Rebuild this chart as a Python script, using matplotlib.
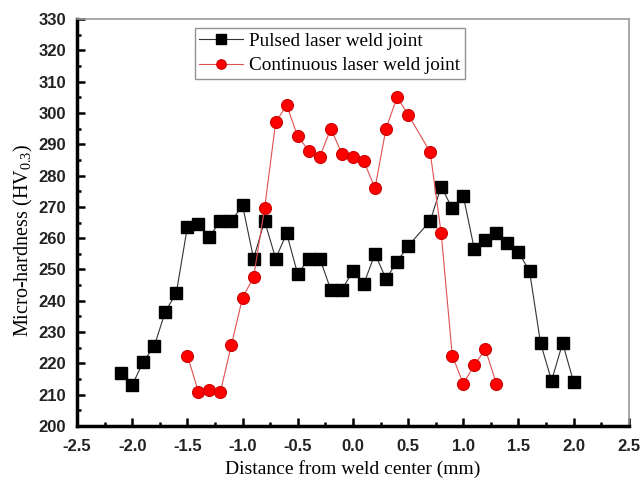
import matplotlib
matplotlib.use("Agg")
import matplotlib.pyplot as plt
from matplotlib.ticker import MultipleLocator

# Pulsed laser weld joint
pulsed_x = [-2.1, -2.0, -1.9, -1.8, -1.7, -1.6, -1.5, -1.4, -1.3, -1.2, -1.1, -1.0,
            -0.9, -0.8, -0.7, -0.6, -0.5, -0.4, -0.3, -0.2, -0.1, 0.0, 0.1, 0.2,
            0.3, 0.4, 0.5, 0.7, 0.8, 0.9, 1.0, 1.1, 1.2, 1.3, 1.4, 1.5, 1.6, 1.7,
            1.8, 1.9, 2.0]
pulsed_y = [217, 213, 220.5, 225.5, 236.5, 242.5, 263.5, 264.5, 260.5, 265.5, 265.5, 270.5,
            253.5, 265.5, 253.5, 261.5, 248.5, 253.5, 253.5, 243.5, 243.5, 249.5, 245.5, 255,
            247, 252.5, 257.5, 265.5, 276.5, 269.5, 273.5, 256.5, 259.5, 261.5, 258.5, 255.5, 249.5, 226.5,
            214.5, 226.5, 214]

# Continuous laser weld joint
cont_x = [-1.5, -1.4, -1.3, -1.2, -1.1, -1.0, -0.9, -0.8, -0.7, -0.6, -0.5, -0.4,
          -0.3, -0.2, -0.1, 0.0, 0.1, 0.2, 0.3, 0.4, 0.5, 0.7, 0.8, 0.9, 1.0,
          1.1, 1.2, 1.3]
cont_y = [222.5, 211, 211.5, 211, 226, 241, 247.5, 269.5, 297, 302.5, 292.5, 288,
          286, 295, 287, 286, 284.5, 276, 295, 305, 299.5, 287.5, 261.5, 222.5, 213.5,
          219.5, 224.5, 213.5]

series_labels = ["Pulsed laser weld joint", "Continuous laser weld joint"]
x_label = "Distance from weld center (mm)"
y_label = "Micro-hardness (HV$_{0.3}$)"

plt.rcParams['mathtext.fontset'] = 'custom'
plt.rcParams['mathtext.rm'] = 'Liberation Serif'
plt.rcParams['mathtext.it'] = 'Liberation Serif:italic'

fig = plt.figure(figsize=(6.43, 4.84), dpi=100)
ax = fig.add_axes([0.1197, 0.1198, 0.978 - 0.1197, 0.9607 - 0.1198])

ax.plot(pulsed_x, pulsed_y, color='#333333', lw=0.8, marker='s', markersize=8.2,
        markerfacecolor='black', markeredgecolor='black', label=series_labels[0])
ax.plot(cont_x, cont_y, color='#e05050', lw=0.8, marker='o', markersize=8.6,
        markerfacecolor='#ff0000', markeredgecolor='#cc0000', markeredgewidth=0.8,
        label=series_labels[1])

ax.set_xlim(-2.5, 2.5)
ax.set_ylim(200, 330)
ax.xaxis.set_major_locator(MultipleLocator(0.5))
ax.xaxis.set_minor_locator(MultipleLocator(0.25))
ax.yaxis.set_major_locator(MultipleLocator(10))
ax.yaxis.set_minor_locator(MultipleLocator(5))
ax.xaxis.set_major_formatter(matplotlib.ticker.FormatStrFormatter('%.1f'))

ax.tick_params(which='both', direction='in', top=False, right=False, width=1.8)
ax.tick_params(which='major', length=6)
ax.tick_params(which='minor', length=3)
for lbl in ax.get_xticklabels() + ax.get_yticklabels():
    lbl.set_fontfamily('Liberation Sans')
    lbl.set_fontweight('bold')
    lbl.set_fontsize(12)
    lbl.set_color('#222222')
ax.tick_params(axis='x', pad=9)
ax.tick_params(axis='y', pad=8)

for s in ['left', 'bottom']:
    ax.spines[s].set_linewidth(2.5)
    ax.spines[s].set_color('black')
for s in ['top', 'right']:
    ax.spines[s].set_linewidth(1.2)
    ax.spines[s].set_color('#999999')

ax.set_xlabel(x_label, fontfamily='Liberation Serif', fontsize=14, labelpad=5)
ax.set_ylabel(y_label, fontfamily='Liberation Serif', fontsize=14.5)
ax.yaxis.set_label_coords(-0.076, 0.457)

leg = ax.legend(loc='upper left', bbox_to_anchor=(0.213, 0.978),
                prop={'family': 'Liberation Serif', 'size': 13.8},
                frameon=True, fancybox=False, edgecolor='#777777', borderpad=0.25,
                labelspacing=0.35, handlelength=2.3, handletextpad=0.3, borderaxespad=0,
                markerscale=0.8)
leg.get_frame().set_linewidth(1.0)

fig.savefig('out.png', dpi=100)
